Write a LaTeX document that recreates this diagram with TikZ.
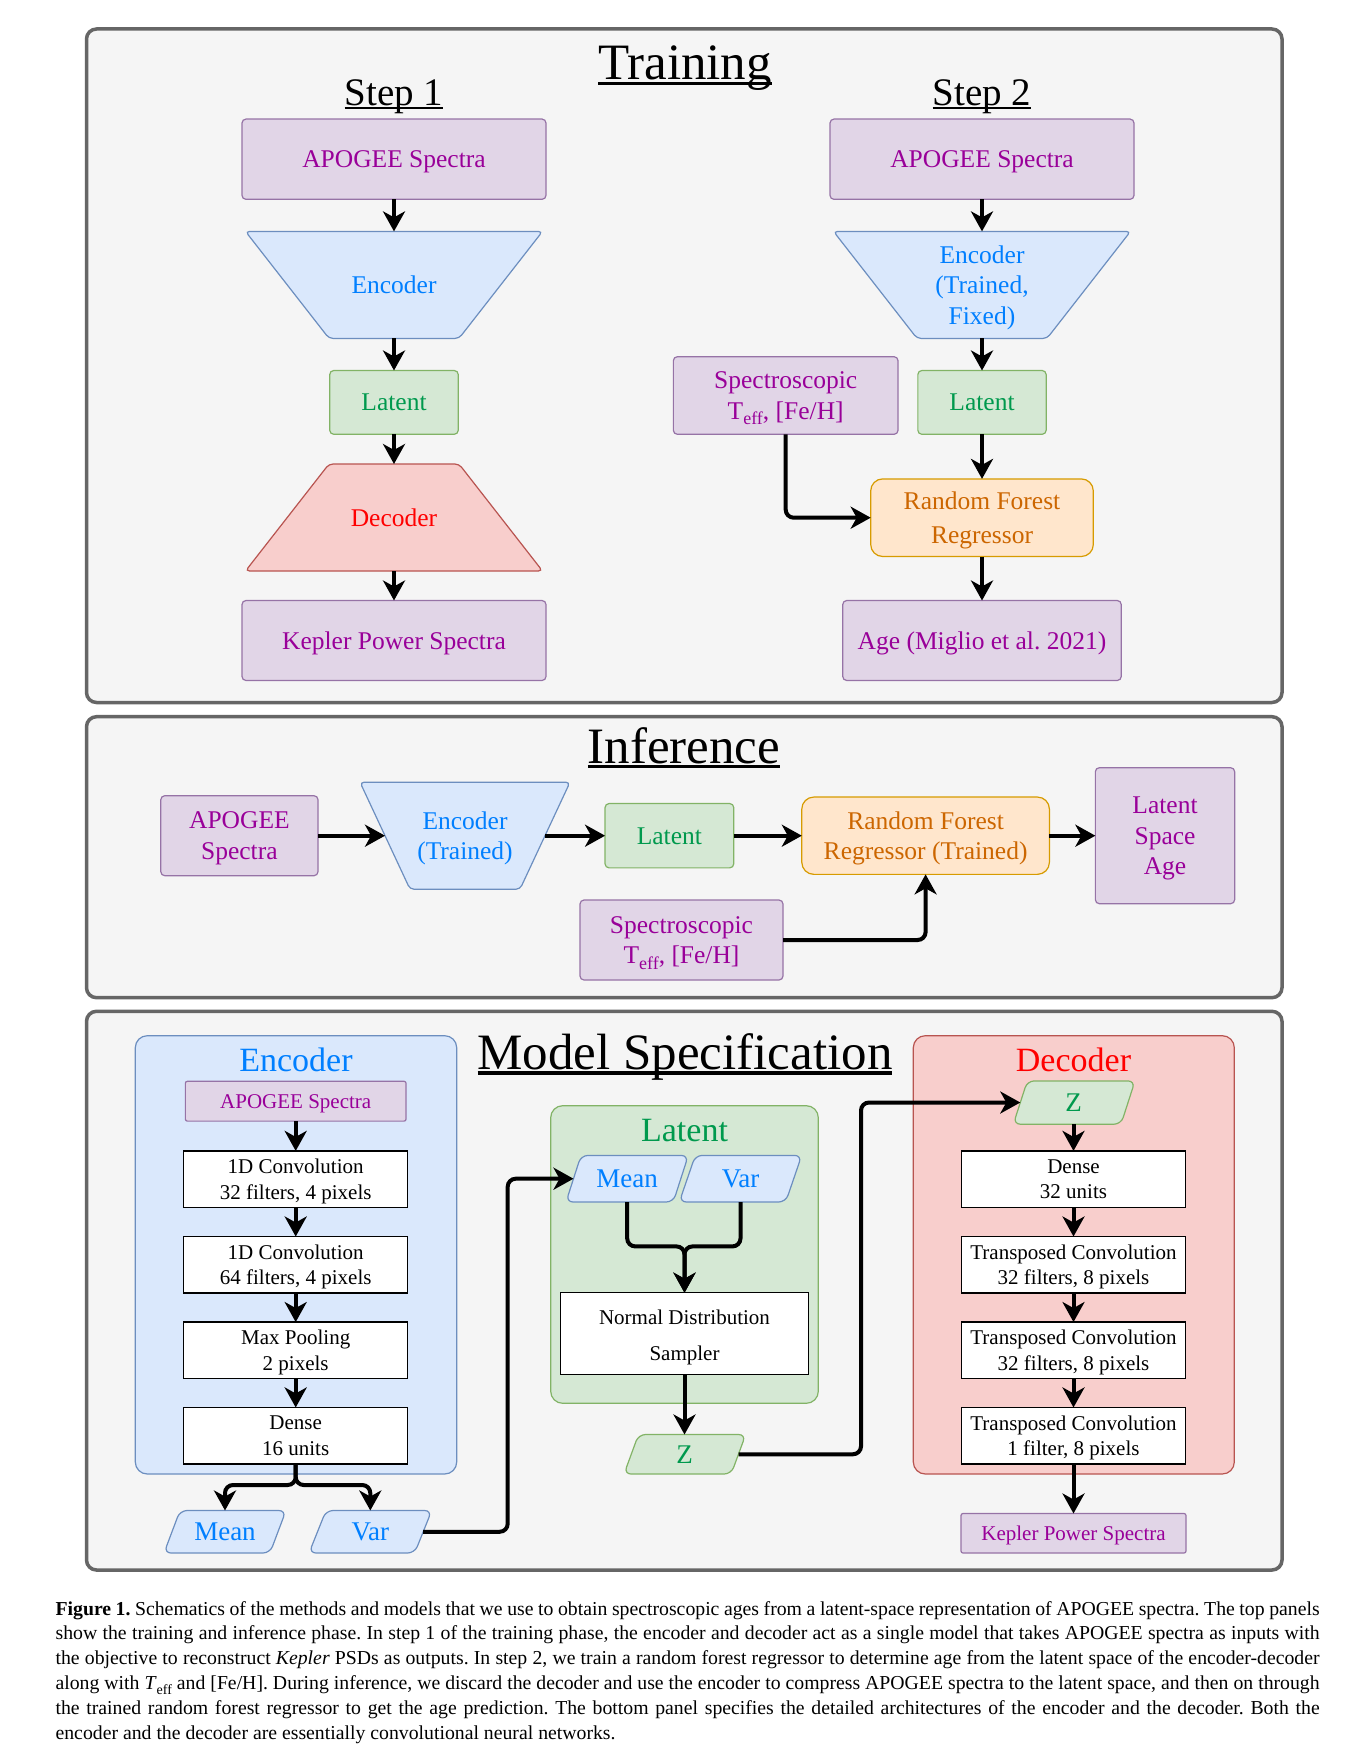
\documentclass[tikz,border=0pt]{standalone}
\usepackage{fontspec}
\setmainfont{Liberation Serif}
\usetikzlibrary{arrows.meta}
\frenchspacing
\definecolor{pfill}{HTML}{E1D5E7}\definecolor{pline}{HTML}{9673A6}\definecolor{ptext}{HTML}{990099}
\definecolor{bfill}{HTML}{DAE8FC}\definecolor{bline}{HTML}{6C8EBF}\definecolor{btext}{HTML}{007FFF}
\definecolor{gfill}{HTML}{D5E8D4}\definecolor{gline}{HTML}{82B366}\definecolor{gtext}{HTML}{00994D}
\definecolor{rfill}{HTML}{F8CECC}\definecolor{rline}{HTML}{B85450}\definecolor{rtext}{HTML}{FF0000}
\definecolor{ofill}{HTML}{FFE6CC}\definecolor{oline}{HTML}{D79B00}\definecolor{otext}{HTML}{CC6600}
\definecolor{frfill}{HTML}{F5F5F5}\definecolor{frline}{HTML}{666666}
\newcommand{\fs}[2]{\fontsize{#1}{#2}\selectfont}
\newcommand{\ulin}[1]{\setbox0\hbox{#1}\rlap{\rule[-0.1em]{\wd0}{0.065em}}\box0}
\newcommand{\teff}{T\raisebox{-0.22em}{\fs{18}{18}eff}}
\begin{document}
\begin{tikzpicture}[x=1pt,y=-1pt,
  every node/.style={inner sep=0pt, outer sep=0pt, align=center},
  frame/.style={draw=frline, fill=frfill, line width=3.5pt, rounded corners=10pt},
  pbox/.style={draw=pline, fill=pfill, text=ptext, line width=1.2pt, rounded corners=4pt},
  bpath/.style={draw=bline, fill=bfill, line width=1.2pt, rounded corners=4pt},
  gpath/.style={draw=gline, fill=gfill, line width=1.2pt, rounded corners=4pt},
  rpath/.style={draw=rline, fill=rfill, line width=1.2pt, rounded corners=4pt},
  ppath/.style={line width=1.2pt, rounded corners=7pt},
  gbox/.style={draw=gline, fill=gfill, text=gtext, line width=1.2pt, rounded corners=4pt},
  obox/.style={draw=oline, fill=ofill, text=otext, line width=1.2pt, rounded corners=12pt},
  wbox/.style={draw=black, fill=white, line width=1.3pt, text=black},
  big/.style={font=\fs{25.5}{30.6}, text depth=0pt},
  small/.style={font=\fs{21}{25.6}, text depth=0pt},
  param/.style={font=\fs{27}{32}, text depth=0pt},
  ttl/.style={font=\fs{51}{60}, anchor=base},
  sttl/.style={font=\fs{39}{46}, anchor=base},
  ptitle/.style={font=\fs{34}{40}, anchor=base},
  arr/.style={line width=4pt, -{Stealth[length=20pt, width=22pt, inset=6pt]}, rounded corners=8pt},
]
\useasboundingbox (0,0) rectangle (1353,1763);
\fill[white] (0,0) rectangle (1353,1763);
% frames
\node[frame, minimum width=1195.5pt, minimum height=673.5pt] (ftrain) at (684.25,365.75) {};
\node[frame, minimum width=1195.5pt, minimum height=281pt] (finf) at (684.25,857.2) {};
\node[frame, minimum width=1195.5pt, minimum height=558.7pt] (fmod) at (684.25,1290.65) {};
% titles
\node[ttl] (ttrain) at (685,80) {\ulin{Training}};
\node[sttl] (tstep1) at (394,105.6) {\ulin{Step 1}};
\node[sttl] (tstep2) at (982,105.6) {\ulin{Step 2}};
\node[ttl] (tinf) at (684,763.3) {\ulin{Inference}};
\node[ttl] (tmod) at (685,1069.6) {\ulin{Model Specification}};
% trapezoid shapes
\draw[bpath] (245.5,231.4) -- (542.5,231.4) -- (459,338.4) -- (329,338.4) -- cycle;
\draw[rpath] (329,464) -- (459,464) -- (542.5,571) -- (245.5,571) -- cycle;
\draw[bpath] (833.5,231.4) -- (1130.5,231.4) -- (1047,338.4) -- (917,338.4) -- cycle;
\draw[bpath] (360,782.2) -- (570,782.2) -- (520,889.2) -- (410,889.2) -- cycle;
% step 1
\node[pbox, big, minimum width=304pt, minimum height=80.3pt] (a1) at (394,159.2) {APOGEE Spectra};
\node[big, text=btext, minimum width=297pt, minimum height=107pt] (e1) at (394,284.9) {Encoder};
\node[gbox, big, minimum width=128.5pt, minimum height=63.8pt] (l1) at (394,402.4) {Latent};
\node[big, text=rtext, minimum width=297pt, minimum height=107pt] (d1) at (394,517.5) {Decoder};
\node[pbox, big, minimum width=304pt, minimum height=80pt] (k1) at (394,640.5) {Kepler Power Spectra};
\draw[arr] (a1) -- (e1);
\draw[arr] (e1) -- (l1);
\draw[arr] (l1) -- (d1);
\draw[arr] (d1) -- (k1);
% step 2
\node[pbox, big, minimum width=304pt, minimum height=80.3pt] (a2) at (982,159.2) {APOGEE Spectra};
\node[big, text=btext, minimum width=297pt, minimum height=107pt] (e2) at (982,284.9) {Encoder\\(Trained,\\Fixed)};
\node[pbox, big, minimum width=224.7pt, minimum height=77.6pt] (s2) at (785.7,395.5) {Spectroscopic\\\teff, [Fe/H]};
\node[gbox, big, minimum width=128.3pt, minimum height=63.8pt] (l2) at (982,402.4) {Latent};
\node[obox, font=\fs{25.5}{34}, text depth=0pt, minimum width=222.6pt, minimum height=77.6pt] (r2) at (982,517.7) {Random Forest\\Regressor};
\node[pbox, big, minimum width=278.5pt, minimum height=80pt] (g2) at (982,640.5) {Age (Miglio et al. 2021)};
\draw[arr] (a2) -- (e2);
\draw[arr] (e2) -- (l2);
\draw[arr] (l2) -- (r2);
\draw[arr] (r2) -- (g2);
\draw[arr] (s2.south) |- (r2.west);
% inference
\node[pbox, big, minimum width=157.2pt, minimum height=80pt] (ia) at (239.4,835.7) {APOGEE\\Spectra};
\node[big, text=btext, minimum width=210pt, minimum height=107pt] (ie) at (465,835.7) {Encoder\\(Trained)};
\coordinate (ieW) at (385,835.7);
\coordinate (ieE) at (545,835.7);
\node[gbox, big, minimum width=128.7pt, minimum height=64.3pt] (il) at (669.4,835.7) {Latent};
\node[obox, big, minimum width=247.6pt, minimum height=77.3pt] (ir) at (925.6,835.7) {Random Forest\\Regressor (Trained)};
\node[pbox, big, minimum width=139.3pt, minimum height=136pt] (io) at (1165,835.7) {Latent\\Space\\Age};
\node[pbox, big, minimum width=203pt, minimum height=80pt] (is) at (681.5,940) {Spectroscopic\\\teff, [Fe/H]};
\draw[arr] (ia) -- (ieW);
\draw[arr] (ieE) -- (il);
\draw[arr] (il) -- (ir);
\draw[arr] (ir) -- (io);
\draw[arr] (is.east) -| (ir.south);
% model specification panels
\node[draw=bline, fill=bfill, line width=1.2pt, rounded corners=12pt, minimum width=321.4pt, minimum height=438.3pt] (pen) at (296,1254.85) {};
\node[draw=gline, fill=gfill, line width=1.2pt, rounded corners=12pt, minimum width=267.6pt, minimum height=297.6pt] (plat) at (684.5,1254.5) {};
\node[draw=rline, fill=rfill, line width=1.2pt, rounded corners=12pt, minimum width=321pt, minimum height=438.3pt] (pdec) at (1073.8,1254.85) {};
\node[ptitle, text=btext] (tpen) at (296,1071.5) {Encoder};
\node[ptitle, text=gtext] (tplat) at (684.5,1141) {Latent};
\node[ptitle, text=rtext] (tpdec) at (1073.5,1071.5) {Decoder};
% parallelogram shapes
\draw[ppath, draw=bline, fill=bfill] (164,1553) -- (270,1553) -- (286,1510.5) -- (180,1510.5) -- cycle;
\draw[ppath, draw=bline, fill=bfill] (309,1553) -- (414.7,1553) -- (431.7,1510.5) -- (326,1510.5) -- cycle;
\draw[ppath, draw=bline, fill=bfill] (566,1202) -- (673.3,1202) -- (688.3,1155.4) -- (581,1155.4) -- cycle;
\draw[ppath, draw=bline, fill=bfill] (679.3,1202) -- (785.7,1202) -- (801.7,1155.4) -- (695.3,1155.4) -- cycle;
\draw[ppath, draw=gline, fill=gfill] (624,1474) -- (731.2,1474) -- (745.7,1434.5) -- (638.5,1434.5) -- cycle;
\draw[ppath, draw=gline, fill=gfill] (1013.3,1124.2) -- (1121,1124.2) -- (1135,1080.9) -- (1027.3,1080.9) -- cycle;
% encoder column
\node[pbox, small, rounded corners=2pt, minimum width=220.7pt, minimum height=39.8pt] (ma) at (295.7,1101.2) {APOGEE Spectra};
\node[wbox, small, minimum width=224pt, minimum height=56.4pt] (c1) at (295.7,1179.1) {1D Convolution\\32 filters, 4 pixels};
\node[wbox, small, minimum width=224pt, minimum height=56.4pt] (c2) at (295.7,1264.7) {1D Convolution\\64 filters, 4 pixels};
\node[wbox, small, minimum width=224pt, minimum height=56.4pt] (mp) at (295.7,1350.25) {Max Pooling\\2 pixels};
\node[wbox, small, minimum width=224pt, minimum height=56.4pt] (de) at (295.7,1435.65) {Dense\\16 units};
\node[param, text=btext, minimum width=100pt, minimum height=42.5pt] (mMean) at (225,1531.75) {Mean};
\node[param, text=btext, minimum width=100pt, minimum height=42.5pt] (mVar) at (370.3,1531.75) {Var};
\coordinate (mVarE) at (423.2,1531.75);
\draw[arr] (ma) -- (c1);
\draw[arr] (c1) -- (c2);
\draw[arr] (c2) -- (mp);
\draw[arr] (mp) -- (de);
\coordinate (sp) at (295.7,1485);
\draw[arr] (de.south) -- (sp) -| (mMean.north);
\draw[arr] (de.south) -- (sp) -| (mVar.north);
% latent column
\node[param, text=btext, minimum width=100pt, minimum height=46.6pt] (lMean) at (627.2,1178.7) {Mean};
\node[param, text=btext, minimum width=100pt, minimum height=46.6pt] (lVar) at (740.5,1178.7) {Var};
\coordinate (lMeanW) at (573.5,1178.7);
\node[wbox, font=\fs{21}{35.8}, text depth=0pt, minimum width=248.4pt, minimum height=81.6pt] (nds) at (684.5,1333.5) {\rule{0pt}{0pt}\raisebox{-3pt}{Normal Distribution}\\\raisebox{-3pt}{Sampler}};
\node[param, text=gtext, minimum width=100pt, minimum height=39.5pt] (lZ) at (684.5,1454.25) {Z};
\coordinate (lZE) at (738.5,1454.25);
\coordinate (mg) at (684.5,1246.4);
\draw[arr] (lMean.south) |- (mg) -- (nds.north);
\draw[arr] (lVar.south) |- (mg) -- (nds.north);
\draw[arr] (nds) -- (lZ);
\coordinate (v1) at (507.7,1531.75);
\draw[arr] (mVarE) -- (v1) |- (lMeanW);
% decoder column
\node[param, text=gtext, minimum width=100pt, minimum height=43.3pt] (dZ) at (1073.5,1102.5) {Z};
\coordinate (dZW) at (1020.3,1102.5);
\node[wbox, small, minimum width=224pt, minimum height=56.4pt] (dd) at (1073.5,1179.1) {Dense\\32 units};
\node[wbox, small, minimum width=224pt, minimum height=56.4pt] (t1) at (1073.5,1264.7) {Transposed Convolution\\32 filters, 8 pixels};
\node[wbox, small, minimum width=224pt, minimum height=56.4pt] (t2) at (1073.5,1350.25) {Transposed Convolution\\32 filters, 8 pixels};
\node[wbox, small, minimum width=224pt, minimum height=56.4pt] (t3) at (1073.5,1435.65) {Transposed Convolution\\1 filter, 8 pixels};
\node[pbox, small, rounded corners=2pt, minimum width=225pt, minimum height=39.5pt] (dk) at (1073.5,1533.25) {Kepler Power Spectra};
\coordinate (z1) at (861,1454.25);
\draw[arr] (lZE) -- (z1) |- (dZW);
\draw[arr] (dZ) -- (dd);
\draw[arr] (dd) -- (t1);
\draw[arr] (t1) -- (t2);
\draw[arr] (t2) -- (t3);
\draw[arr] (t3) -- (dk);
% caption
\node[anchor=base west, font=\fs{19.75}{24.8}] (cap) at (55.6,1615) {\parbox[t]{1264pt}{%
\hbox to \linewidth{\textbf{Figure 1.} Schematics of the methods and models that we use to obtain spectroscopic ages from a latent-space representation of APOGEE spectra. The top panels}%
\hbox to \linewidth{show the training and inference phase. In step 1 of the training phase, the encoder and decoder act as a single model that takes APOGEE spectra as inputs with}%
\hbox to \linewidth{the objective to reconstruct \textit{Kepler} PSDs as outputs. In step 2, we train a random forest regressor to determine age from the latent space of the encoder-decoder}%
\hbox to \linewidth{along with \textit{T}\raisebox{-0.25em}{\fs{14}{14}eff} and [Fe/H]. During inference, we discard the decoder and use the encoder to compress APOGEE spectra to the latent space, and then on through}%
\hbox to \linewidth{the trained random forest regressor to get the age prediction. The bottom panel specifies the detailed architectures of the encoder and the decoder. Both the}%
\hbox{encoder and the decoder are essentially convolutional neural networks.}}};
\end{tikzpicture}
\end{document}
